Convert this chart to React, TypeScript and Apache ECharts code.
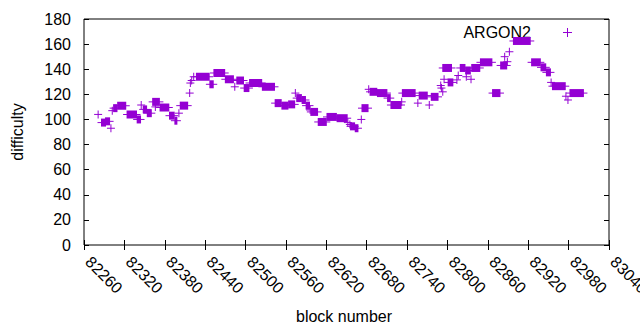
import React, { useEffect, useRef } from "react";
import * as echarts from "echarts";

// Runs of consecutive blocks sharing one difficulty value (start block, end block, value)
const runStart = [
  82281, 82286, 82292, 82300, 82302, 82304, 82310, 82324, 82339, 82345,
  82348, 82354, 82362, 82366, 82373, 82387, 82395, 82401, 82403, 82417,
  82418, 82420, 82423, 82427, 82447, 82453, 82470, 82484, 82487, 82498,
  82506, 82525, 82544, 82554, 82564, 82574, 82576, 82584, 82590, 82596,
  82597, 82608, 82621, 82636, 82652, 82655, 82656, 82663, 82672, 82673,
  82683, 82685, 82696, 82711, 82716, 82732, 82733, 82756, 82758, 82773,
  82776, 82790, 82791, 82793, 82795, 82793, 82801, 82814, 82816, 82819,
  82827, 82828, 82835, 82836, 82849, 82867, 82879, 82885, 82889, 82892,
  82898, 82925, 82939, 82947, 82954, 82956, 82976, 82979, 82982,
];
const runEnd = [
  82281, 82292, 82298, 82300, 82302, 82309, 82322, 82338, 82344, 82345,
  82353, 82360, 82372, 82366, 82386, 82394, 82398, 82401, 82414, 82417,
  82418, 82420, 82423, 82446, 82452, 82469, 82482, 82484, 82497, 82505,
  82524, 82543, 82553, 82563, 82573, 82574, 82583, 82589, 82595, 82596,
  82607, 82620, 82635, 82651, 82652, 82655, 82662, 82667, 82672, 82682,
  82683, 82695, 82710, 82715, 82731, 82732, 82752, 82756, 82770, 82773,
  82786, 82790, 82791, 82793, 82795, 82806, 82808, 82814, 82816, 82826,
  82834, 82828, 82835, 82848, 82866, 82878, 82888, 82885, 82889, 82892,
  82923, 82938, 82946, 82953, 82954, 82975, 82976, 82979, 83002,
];
const runValue = [
  104, 97.5, 98.5, 93, 107, 109, 111, 104, 100, 111.5,
  108, 105, 114, 110, 109.5, 103, 99, 105, 111, 121,
  129, 131, 134, 134, 128, 137, 132, 126, 131, 125,
  129, 126, 113, 111, 112, 121, 117, 115.5, 111, 107.5,
  106, 98, 102, 101, 97.5, 96, 94.5, 93, 100, 109,
  124, 122, 121, 117, 111.5, 114, 121, 113, 119, 111.5,
  118, 127, 125, 122, 132, 141, 129.5, 131.5, 135, 141,
  139, 134, 132, 141, 145.5, 121, 143, 150, 146, 154,
  162.5, 145.5, 141.5, 137.5, 129.5, 126.5, 118.5, 115.5, 121,
];

const yTicks = [0, 20, 40, 60, 80, 100, 120, 140, 160, 180];
const xMin = 82260;
const xMax = 83040;
const xStep = 60;
const seriesName = "ARGON2";
const xTitle = "block number";
const yTitle = "difficulty";

const COLOR = "#9400D3";
const FONT = '"Liberation Sans", Arial, sans-serif';

export default function App() {
  const ref = useRef<HTMLDivElement>(null);

  useEffect(() => {
    if (!ref.current) return;
    const chart = echarts.init(ref.current, undefined, { renderer: "svg" });
    const data = runStart.map((s, i) => [s, runEnd[i], runValue[i]]);
    const half = 4;

    const axisCommon = {
      splitLine: { show: false },
      axisLine: { show: false },
      axisTick: { show: true, inside: true, length: 5, lineStyle: { color: "#000", width: 1 } },
    };

    chart.setOption({
      animation: false,
      grid: {
        left: 84,
        right: 31,
        top: 19,
        bottom: 85,
        containLabel: false,
        outerBoundsMode: "none",
        show: true,
        borderColor: "#000",
        borderWidth: 1,
        backgroundColor: "transparent",
      },
      xAxis: [
        {
          type: "value",
          min: xMin,
          max: xMax,
          interval: xStep,
          position: "bottom",
          ...axisCommon,
          axisLabel: {
            rotate: -45,
            color: "#000",
            fontSize: 16,
            fontFamily: FONT,
            margin: 10,
            padding: [0, 0, 0, 6],
            hideOverlap: false,
            showMinLabel: true,
            showMaxLabel: true,
            formatter: (v: number) => String(v),
          },
        },
        {
          type: "value",
          min: xMin,
          max: xMax,
          interval: xStep,
          position: "top",
          ...axisCommon,
          axisLabel: { show: false },
        },
      ],
      yAxis: [
        {
          type: "value",
          min: yTicks[0],
          max: yTicks[yTicks.length - 1],
          interval: yTicks[1] - yTicks[0],
          position: "left",
          ...axisCommon,
          axisLabel: { color: "#000", fontSize: 16, fontFamily: FONT, margin: 13 },
        },
        {
          type: "value",
          min: yTicks[0],
          max: yTicks[yTicks.length - 1],
          interval: yTicks[1] - yTicks[0],
          position: "right",
          ...axisCommon,
          axisLabel: { show: false },
        },
      ],
      series: [
        {
          type: "custom",
          name: seriesName,
          xAxisIndex: 0,
          yAxisIndex: 0,
          encode: { x: [0, 1], y: 2 },
          data,
          renderItem: (params: any, api: any) => {
            const p0 = api.coord([api.value(0), api.value(2)]);
            const p1 = api.coord([api.value(1), api.value(2)]);
            const w = p1[0] - p0[0];
            return {
              type: "group",
              children: [
                {
                  type: "rect",
                  shape: { x: p0[0] - 0.5, y: p0[1] - half, width: w + 1, height: half * 2 },
                  style: { fill: COLOR },
                },
                {
                  type: "rect",
                  shape: { x: p0[0] - half, y: p0[1] - 0.5, width: w + half * 2, height: 1 },
                  style: { fill: COLOR },
                },
              ],
            };
          },
        },
      ],
      graphic: [
        {
          type: "text",
          x: 531,
          y: 32,
          style: { text: seriesName, align: "right", verticalAlign: "middle", font: `16px ${FONT}`, fill: "#000" },
        },
        {
          type: "line",
          shape: { x1: 563, y1: 32.5, x2: 572, y2: 32.5 },
          style: { stroke: COLOR, lineWidth: 1 },
        },
        {
          type: "line",
          shape: { x1: 567.5, y1: 28, x2: 567.5, y2: 37 },
          style: { stroke: COLOR, lineWidth: 1 },
        },
        {
          type: "text",
          x: 344,
          y: 316,
          style: { text: xTitle, align: "center", verticalAlign: "middle", font: `16px ${FONT}`, fill: "#000" },
        },
        {
          type: "text",
          x: 17,
          y: 132,
          rotation: Math.PI / 2,
          style: { text: yTitle, align: "center", verticalAlign: "middle", font: `16px ${FONT}`, fill: "#000" },
        },
      ],
    });

    return () => chart.dispose();
  }, []);

  return (
    <div
      ref={ref}
      style={{ position: "fixed", left: 0, top: 0, width: 640, height: 330, background: "#fff" }}
    />
  );
}
